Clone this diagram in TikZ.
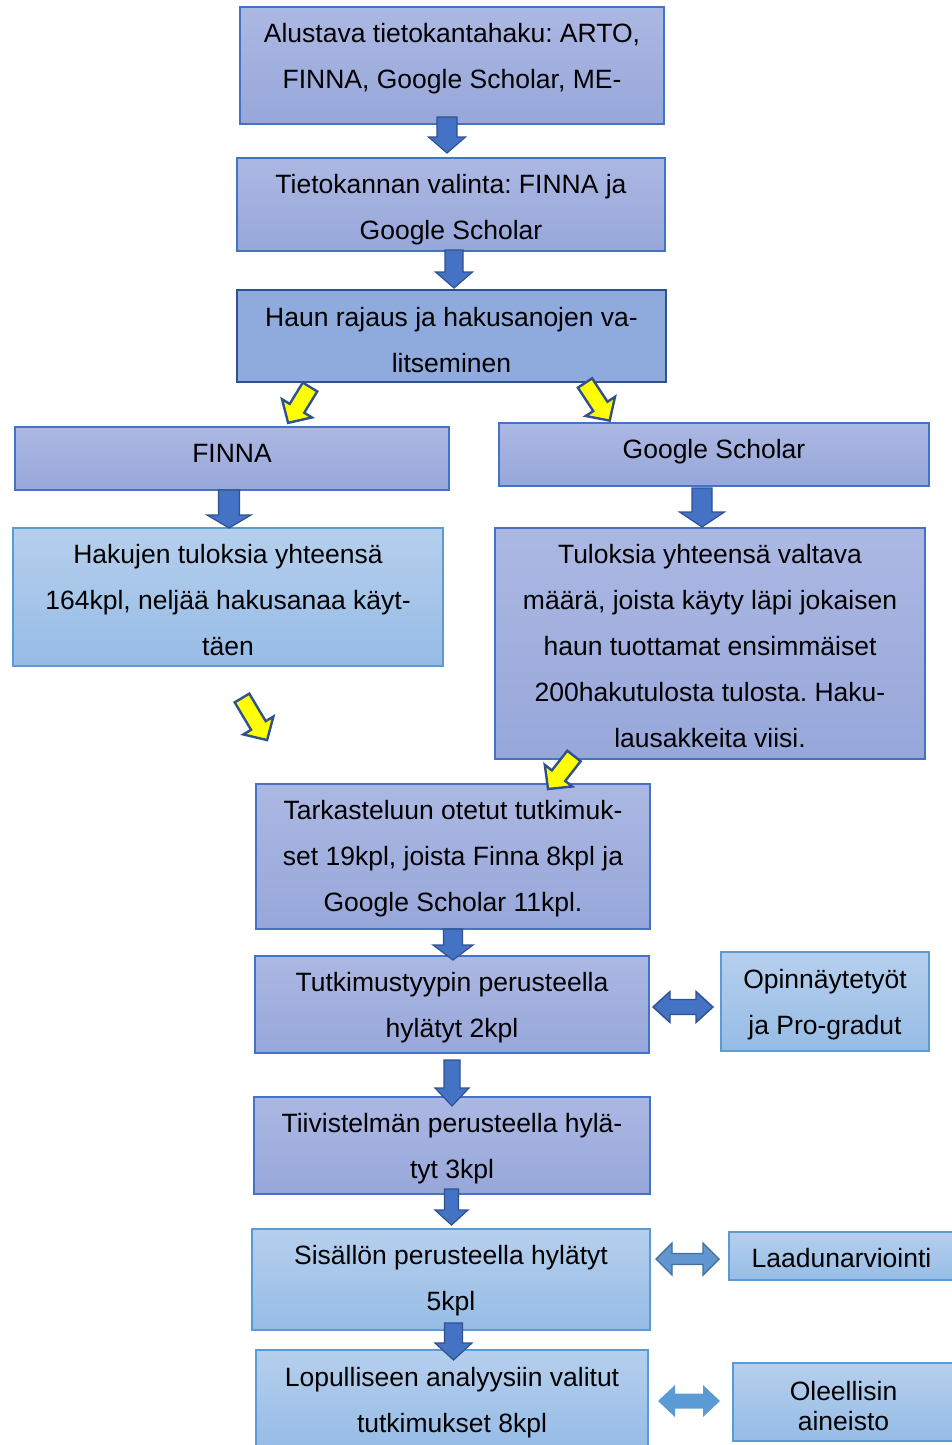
\documentclass[tikz,border=0pt]{standalone}
\usepackage{fontspec}
\setmainfont{Liberation Sans}
\frenchspacing
\definecolor{lavtop}{RGB}{172,184,227}
\definecolor{lavbot}{RGB}{151,167,218}
\definecolor{lavedge}{RGB}{68,114,196}
\definecolor{lighttop}{RGB}{182,207,237}
\definecolor{lightbot}{RGB}{150,188,230}
\definecolor{lightedge}{RGB}{91,155,213}
\definecolor{haunfill}{RGB}{143,170,220}
\definecolor{darkedge}{RGB}{47,82,143}
\definecolor{arrblue}{RGB}{68,114,196}
\definecolor{arrmid}{RGB}{98,150,208}
\definecolor{arrmidedge}{RGB}{65,113,156}
\definecolor{arrlight}{RGB}{91,155,213}
\definecolor{yel}{RGB}{255,255,0}
\tikzset{
  txt/.style={font=\fontsize{26.5}{46}\selectfont, align=center, text=black, inner sep=0pt},
  lavbox/.style={draw=lavedge, line width=1.2pt, top color=lavtop, bottom color=lavbot, inner sep=0pt},
  lightbox/.style={draw=lightedge, line width=1.2pt, top color=lighttop, bottom color=lightbot, inner sep=0pt},
  haunbox/.style={draw=darkedge, line width=2.6pt, fill=haunfill, inner sep=0pt},
  blk/.style={fill=arrblue, draw=darkedge, line width=1.2pt, line join=miter},
  yarr/.style={fill=yel, draw=darkedge, line width=2.4pt, line join=miter},
  dblA/.style={fill=arrblue, draw=darkedge, line width=1.4pt},
  dblB/.style={fill=arrmid, draw=arrmidedge, line width=1.4pt},
  dblC/.style={fill=arrlight, draw=none},
}
% down block arrow: cx, ytop, yheadstart, ytip, shaft half, head half
\newcommand{\dnarrow}[6]{%
  \filldraw[blk] ({#1-#5},#2) -- ({#1+#5},#2) -- ({#1+#5},#3) -- ({#1+#6},#3)
    -- (#1,#4) -- ({#1-#6},#3) -- ({#1-#5},#3) -- cycle;}
% yellow arrow: tail centre x,y, angle, length
\newcommand{\yelarrow}[4]{%
  \begin{scope}[shift={(#1,#2)}, x=1pt, y=1pt, rotate=#3]
    \filldraw[yarr] (0,-8.5) -- ({#4-17},-8.5) -- ({#4-17},-17.5) -- (#4,0)
      -- ({#4-17},17.5) -- ({#4-17},8.5) -- (0,8.5) -- cycle;
  \end{scope}}
% double arrow: xleft, xright, cy, shaft half, head half, head length, style
\newcommand{\dblarrow}[7]{%
  \filldraw[#7] (#1,#3) -- ({#1+#6},{#3-#5}) -- ({#1+#6},{#3-#4}) -- ({#2-#6},{#3-#4})
    -- ({#2-#6},{#3-#5}) -- (#2,#3) -- ({#2-#6},{#3+#5}) -- ({#2-#6},{#3+#4})
    -- ({#1+#6},{#3+#4}) -- ({#1+#6},{#3+#5}) -- cycle;}
\begin{document}
\begin{tikzpicture}[x=1pt, y=-1pt]
\useasboundingbox (0,0) rectangle (952,1445);
\fill[white] (0,0) rectangle (952,1445);

% boxes
\node[lavbox, minimum width=424pt, minimum height=117pt] (b1) at (452,65.5) {};
\node[lavbox, minimum width=428pt, minimum height=93pt] (b2) at (451,204.5) {};
\node[haunbox, minimum width=429pt, minimum height=92pt] (b3) at (451.5,336) {};
\node[lavbox, minimum width=434pt, minimum height=63pt] (b4) at (232,458.5) {};
\node[lavbox, minimum width=430pt, minimum height=63pt] (b5) at (714,454.5) {};
\node[lightbox, minimum width=430pt, minimum height=138pt] (b6) at (228,597) {};
\node[lavbox, minimum width=430pt, minimum height=231pt] (b7) at (710,643.5) {};
\node[lavbox, minimum width=394pt, minimum height=145pt] (b8) at (453,856.5) {};
\node[lavbox, minimum width=394pt, minimum height=97pt] (b9) at (452,1004.5) {};
\node[lightbox, minimum width=208pt, minimum height=99pt] (b10) at (825,1001.5) {};
\node[lavbox, minimum width=396pt, minimum height=97pt] (b11) at (452,1145.5) {};
\node[lightbox, minimum width=398pt, minimum height=101pt] (b12) at (451,1279.5) {};
\node[lightbox, minimum width=225pt, minimum height=48pt] (b13) at (841.5,1256) {};
\node[lightbox, minimum width=392pt, minimum height=97pt] (b14) at (452,1398.5) {};
\node[lightbox, minimum width=221pt, minimum height=78pt] (b15) at (843.5,1402) {};

% texts
\node[txt] (t1) at (452,58.5) {Alustava tietokantahaku: ARTO,\\FINNA, Google Scholar, ME-};
\node[txt] (t2) at (451,209.5) {Tietokannan valinta: FINNA ja\\Google Scholar};
\node[txt] (t3) at (451.5,340.5) {Haun rajaus ja hakusanojen va-\\litseminen};
\node[txt] (t4) at (232,453.5) {FINNA};
\node[txt] (t5) at (714,452) {Google Scholar};
\node[txt] (t6) at (228,600.5) {Hakujen tuloksia yhteensä\\164kpl, neljää hakusanaa käyt-\\täen};
\node[txt] (t7) at (710,646.5) {Tuloksia yhteensä valtava\\määrä, joista käyty läpi jokaisen\\haun tuottamat ensimmäiset\\200hakutulosta tulosta. Haku-\\lausakkeita viisi.};
\node[txt] (t8) at (453,858.5) {Tarkasteluun otetut tutkimuk-\\set 19kpl, joista Finna 8kpl ja\\Google Scholar 11kpl.};
\node[txt] (t9) at (452,1007.5) {Tutkimustyypin perusteella\\hylätyt 2kpl};
\node[txt] (t10) at (825,1004.5) {Opinnäytetyöt\\ja Pro-gradut};
\node[txt] (t11) at (452,1149) {Tiivistelmän perusteella hylä-\\tyt 3kpl};
\node[txt] (t12) at (451,1280.5) {Sisällön perusteella hylätyt\\5kpl};
\node[txt] (t13) at (841.5,1258) {Laadunarviointi};
\node[txt] (t14) at (452,1402.5) {Lopulliseen analyysiin valitut\\tutkimukset 8kpl};
\node[txt, font=\fontsize{26.5}{30}\selectfont] (t15) at (843.5,1406) {Oleellisin\\aineisto};

% down block arrows
\dnarrow{447}{117}{137}{153}{10}{18.5}
\dnarrow{454}{250}{272}{288}{9}{18.5}
\dnarrow{229}{490}{515}{528}{10.5}{22}
\dnarrow{702}{488}{512}{527}{10}{22.5}
\dnarrow{453}{929}{945}{960}{9.5}{20}
\dnarrow{452}{1060}{1088}{1106}{8}{17}
\dnarrow{451.5}{1189}{1210}{1225}{7}{16.5}
\dnarrow{453.5}{1323}{1343}{1360}{9}{18.5}

% yellow arrows
\yelarrow{310}{387}{238.6}{42}
\yelarrow{585}{383}{-56.7}{45}
\yelarrow{242}{698}{-59.2}{49}
\yelarrow{574}{756}{231.8}{42}

% double arrows
\dblarrow{653}{713}{1007}{7.5}{15.5}{17}{dblA}
\dblarrow{656}{719}{1259}{5.5}{16}{16}{dblB}
\dblarrow{658}{720}{1401}{7.5}{16}{17}{dblC}
\end{tikzpicture}
\end{document}
